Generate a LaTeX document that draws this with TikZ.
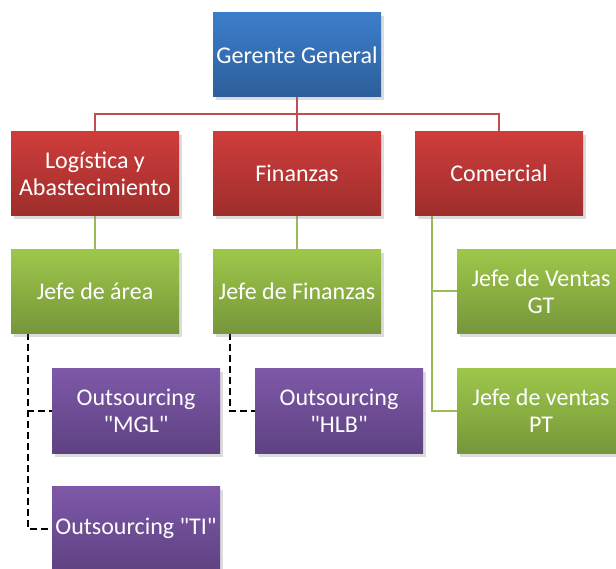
\documentclass[tikz,border=0pt]{standalone}
\usepackage{fontspec}
\setmainfont{Carlito}[Ligatures=TeXOff]
\usetikzlibrary{shadows}
\definecolor{blueT}{RGB}{60,126,203}
\definecolor{blueB}{RGB}{45,94,154}
\definecolor{redT}{RGB}{207,61,59}
\definecolor{redB}{RGB}{158,46,44}
\definecolor{greenT}{RGB}{158,199,74}
\definecolor{greenB}{RGB}{118,150,58}
\definecolor{purT}{RGB}{126,88,168}
\definecolor{purB}{RGB}{94,66,130}
\definecolor{redline}{RGB}{192,80,77}
\definecolor{greenline}{RGB}{155,187,89}
\tikzset{
  box/.style={rectangle, minimum width=168pt, minimum height=84pt, inner sep=0pt,
    align=center, text=white, font=\fontsize{24}{27.3}\selectfont,
    drop shadow={shadow xshift=2.5pt, shadow yshift=-3.5pt, opacity=0.28}},
  bluebox/.style={box, top color=blueT, bottom color=blueB},
  redbox/.style={box, top color=redT, bottom color=redB},
  greenbox/.style={box, top color=greenT, bottom color=greenB},
  purbox/.style={box, top color=purT, bottom color=purB},
  redconn/.style={draw=redline, line width=2pt},
  greenconn/.style={draw=greenline, line width=2pt},
  dashconn/.style={draw=black, line width=2pt, dash pattern=on 7pt off 4pt}
}
\begin{document}
\begin{tikzpicture}[x=1pt,y=-1pt]
\useasboundingbox (0,0) rectangle (616,569);
\clip (0,0) rectangle (616,569);
% connectors first
\coordinate (bus) at (297,114);
\coordinate (ct) at (432,216);
\coordinate (da) at (27.5,333);
\coordinate (df) at (230,333);
\draw[redconn] (297,97) -- (297,131);
\draw[redconn] (95,131) |- (bus) -| (499,131);
\draw[greenconn] (95,216) -- (95,250);
\draw[greenconn] (297,216) -- (297,250);
\draw[greenconn] (ct) |- (457,291.5);
\draw[greenconn] (ct) |- (457,411);
\draw[dashconn] (da) |- (52,411);
\draw[dashconn] (da) |- (52,528.5);
\draw[dashconn] (df) |- (255,411);
% nodes
\node[bluebox] (gg) at (297,55) {Gerente General};
\node[redbox] (log) at (95,173.5) {Logística y\\Abastecimiento};
\node[redbox] (fin) at (297,173.5) {Finanzas};
\node[redbox] (com) at (499,173.5) {Comercial};
\node[greenbox] (ja) at (95,291.5) {Jefe de área};
\node[greenbox] (jf) at (297,291.5) {Jefe de Finanzas};
\node[greenbox] (jvgt) at (541,291.5) {Jefe de Ventas\\GT};
\node[greenbox] (jvpt) at (541,411) {Jefe de ventas\\PT};
\node[purbox] (mgl) at (136,411) {Outsourcing\\"MGL"};
\node[purbox] (hlb) at (339,411) {Outsourcing\\"HLB"};
\node[purbox] (ti) at (136,528.5) {Outsourcing "TI"};
\end{tikzpicture}
\end{document}
